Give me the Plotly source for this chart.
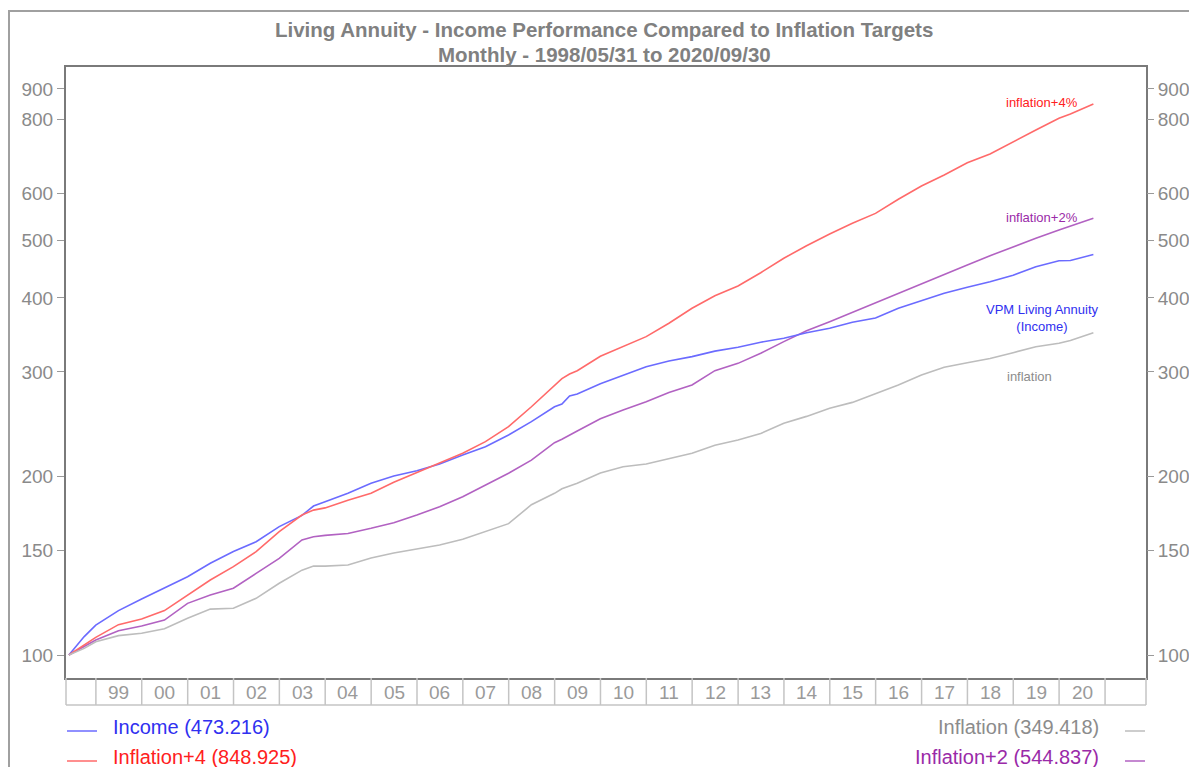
import plotly.graph_objects as go

# Month-end observation dates (index base 100 at 1998/05/31)
dates = [
    "1998-05-31", "1998-09-30", "1998-12-31", "1999-06-30", "1999-12-31",
    "2000-06-30", "2000-12-31", "2001-06-30", "2001-12-31", "2002-06-30",
    "2002-12-31", "2003-06-30", "2003-09-30", "2003-12-31", "2004-06-30",
    "2004-12-31", "2005-06-30", "2005-12-31", "2006-06-30", "2006-12-31",
    "2007-06-30", "2007-12-31", "2008-06-30", "2008-12-31", "2009-02-28",
    "2009-04-30", "2009-06-30", "2009-12-31", "2010-06-30", "2010-12-31",
    "2011-06-30", "2011-12-31", "2012-06-30", "2012-12-31", "2013-06-30",
    "2013-12-31", "2014-06-30", "2014-12-31", "2015-06-30", "2015-12-31",
    "2016-06-30", "2016-12-31", "2017-06-30", "2017-12-31", "2018-06-30",
    "2018-12-31", "2019-06-30", "2019-12-31", "2020-03-31", "2020-09-30",
]

income = [
    100.0, 107.4, 112.3, 118.8, 124.3, 129.8, 135.5, 142.8, 149.4, 155.2,
    164.6, 171.9, 178.3, 181.3, 187.3, 194.7, 200.4, 204.5, 209.9, 217.4,
    224.5, 234.9, 247.4, 262.1, 264.9, 273.3, 275.4, 286.5, 296.5, 306.2,
    313.0, 318.4, 325.3, 330.2, 336.8, 342.0, 349.4, 355.4, 363.9, 370.0,
    384.2, 395.7, 407.1, 416.8, 425.9, 436.7, 451.3, 462.0, 462.4, 473.216,
]

inflation_plus4 = [
    100.0, 103.9, 107.1, 112.5, 115.0, 118.8, 126.2, 133.8, 140.9, 149.4,
    161.4, 172.2, 175.5, 177.0, 182.4, 187.3, 195.5, 202.9, 210.5, 218.8,
    228.9, 242.6, 262.1, 285.2, 292.3, 297.6, 301.5, 318.8, 330.9, 344.1,
    362.4, 384.2, 403.4, 418.8, 441.0, 466.5, 489.8, 512.6, 534.2, 555.2,
    586.5, 617.5, 644.6, 676.0, 699.4, 733.5, 767.4, 803.1, 816.6, 848.925,
]

inflation_plus2 = [
    100.0, 103.3, 106.0, 109.9, 111.9, 114.5, 122.2, 126.2, 129.6, 137.3,
    145.5, 156.3, 158.2, 159.1, 160.3, 163.5, 167.1, 172.2, 177.8, 184.9,
    193.2, 202.5, 213.1, 228.0, 231.0, 234.5, 238.6, 250.1, 258.9, 267.3,
    277.1, 285.2, 301.5, 310.2, 322.6, 337.5, 352.1, 364.7, 378.3, 392.8,
    407.1, 423.2, 438.8, 454.5, 471.1, 488.0, 504.2, 520.6, 528.7, 544.837,
]

inflation = [
    100.0, 102.6, 105.3, 107.8, 108.8, 110.7, 115.3, 119.5, 119.9, 124.6,
    132.1, 139.0, 141.2, 141.2, 141.8, 145.7, 148.6, 150.9, 153.3, 156.7,
    161.4, 166.5, 179.2, 187.3, 190.7, 192.9, 194.7, 202.7, 207.7, 209.9,
    214.5, 218.8, 225.7, 230.3, 236.3, 245.9, 252.5, 260.6, 266.6, 275.7,
    285.2, 296.5, 305.5, 311.0, 316.2, 323.3, 330.9, 335.4, 339.0, 349.418,
]

y_ticks = [100, 150, 200, 300, 400, 500, 600, 800, 900]
years = list(range(1999, 2021))

FONT = "Liberation Sans, Arial, sans-serif"
GREY_TXT = "#8a8a8a"
AXIS_GREY = "#7a7a7a"
BOX_GREY = "#c4c4c4"

c_income, c_income_txt = "#6b6bff", "#3030f0"
c_inf4, c_inf4_txt = "#ff6a6a", "#ff2020"
c_inf2, c_inf2_txt = "#b262c2", "#9a2aa8"
c_inf, c_inf_txt = "#bdbdbd", "#8c8c8c"

PLOT_W, PLOT_H = 1080, 611      # plot area size in pixels
PLOT_L, PLOT_B = 66, 678        # plot area left / bottom edge in pixels


def px_x(px):
    return (px - PLOT_L) / PLOT_W


def px_y(py):
    return (PLOT_B - py) / PLOT_H


fig = go.Figure()
fig.add_trace(go.Scatter(x=dates, y=inflation, mode="lines", yaxis="y2",
                         line=dict(color=c_inf, width=1.6), name="Inflation"))
fig.add_trace(go.Scatter(x=dates, y=inflation_plus2, mode="lines",
                         line=dict(color=c_inf2, width=1.6), name="Inflation+2"))
fig.add_trace(go.Scatter(x=dates, y=income, mode="lines",
                         line=dict(color=c_income, width=1.6), name="Income"))
fig.add_trace(go.Scatter(x=dates, y=inflation_plus4, mode="lines",
                         line=dict(color=c_inf4, width=1.6), name="Inflation+4"))

# x range spans the partial first year and a blank slot after 2020
x_range = ["1998-05-08", "2021-11-23"]
y_range = [1.96123, 2.99124]

yaxis_common = dict(
    type="log", range=y_range, tickvals=y_ticks, ticktext=[str(v) for v in y_ticks],
    ticks="outside", ticklen=7, tickwidth=1, tickcolor="#9a9a9a",
    tickfont=dict(family=FONT, size=19, color=GREY_TXT),
    showgrid=False, zeroline=False, fixedrange=True, automargin=False,
)

fig.update_layout(
    width=1189, height=767,
    margin=dict(l=66, r=43, t=67, b=89, autoexpand=False),
    paper_bgcolor="white", plot_bgcolor="white",
    showlegend=False,
    font=dict(family=FONT),
    xaxis=dict(type="date", range=x_range, showticklabels=False, ticks="",
               showgrid=False, zeroline=False, showline=True, mirror=True,
               linecolor=AXIS_GREY, linewidth=2, automargin=False),
    yaxis=dict(**yaxis_common, side="left", showline=True, mirror=True,
               linecolor=AXIS_GREY, linewidth=2),
    yaxis2=dict(**yaxis_common, side="right", overlaying="y", showline=False),
)

annotations = []

# Two-line bold title
for txt, py in (("Living Annuity - Income Performance Compared to Inflation Targets", 29),
                ("Monthly - 1998/05/31 to 2020/09/30", 54)):
    annotations.append(dict(x=px_x(604), y=px_y(py), xref="paper", yref="paper",
                            text=f"<b>{txt}</b>", showarrow=False,
                            xanchor="center", yanchor="middle",
                            font=dict(family=FONT, size=20.5, color="#808080")))

# Year strip beneath the plot: boxes separated at each year boundary
box_bottom = px_y(705)
shapes = []
for yr in years + [2021]:
    shapes.append(dict(type="line", xref="x", yref="paper",
                       x0=f"{yr}-01-01", x1=f"{yr}-01-01", y0=0, y1=box_bottom,
                       line=dict(color=BOX_GREY, width=1.5)))
for xp in (0, 1):
    shapes.append(dict(type="line", xref="paper", yref="paper",
                       x0=xp, x1=xp, y0=0, y1=box_bottom,
                       line=dict(color=BOX_GREY, width=1.5)))
shapes.append(dict(type="line", xref="paper", yref="paper", x0=0, x1=1,
                   y0=box_bottom, y1=box_bottom, line=dict(color=BOX_GREY, width=1.5)))

# Outer frame around the whole chart panel
shapes.append(dict(type="rect", xref="paper", yref="paper",
                   x0=px_x(9), x1=px_x(1300), y0=px_y(900), y1=px_y(11),
                   line=dict(color="#a0a0a0", width=2), layer="below"))

for yr in years:
    annotations.append(dict(x=f"{yr}-07-02", y=px_y(692), xref="x", yref="paper",
                            text=f"{yr % 100:02d}", showarrow=False,
                            font=dict(family=FONT, size=19, color="#9a9a9a"),
                            xanchor="center", yanchor="middle"))

# Legend entries with final values
legend_rows = [
    ("left", 727, c_income, c_income_txt, f"Income ({income[-1]:.3f})"),
    ("left", 757, c_inf4, c_inf4_txt, f"Inflation+4 ({inflation_plus4[-1]:.3f})"),
    ("right", 727, c_inf, c_inf_txt, f"Inflation ({inflation[-1]:.3f})"),
    ("right", 757, c_inf2, c_inf2_txt, f"Inflation+2 ({inflation_plus2[-1]:.3f})"),
]
for side, py, lc, tc, label in legend_rows:
    if side == "left":
        x0, x1, tx, anchor = 67, 97, 111, "left"
    else:
        x0, x1, tx, anchor = 1125, 1145, 1101, "right"
    shapes.append(dict(type="line", xref="paper", yref="paper",
                       x0=px_x(x0), x1=px_x(x1), y0=px_y(py + 4), y1=px_y(py + 4),
                       line=dict(color=lc, width=1.5)))
    annotations.append(dict(x=px_x(tx), y=px_y(py), xref="paper", yref="paper", text=label,
                            showarrow=False, xanchor=anchor, yanchor="middle",
                            font=dict(family=FONT, size=20, color=tc)))

# Series labels placed next to the line ends
series_labels = [
    (1042, 103, "inflation+4%", c_inf4_txt),
    (1042, 217, "inflation+2%", c_inf2_txt),
    (1042, 318, "VPM Living Annuity<br>(Income)", c_income_txt),
    (1029, 376, "inflation", c_inf_txt),
]
for px, py, txt, col in series_labels:
    annotations.append(dict(x=px_x(px), y=px_y(py), xref="paper", yref="paper", text=txt,
                            showarrow=False, xanchor="center", yanchor="middle",
                            font=dict(family=FONT, size=13, color=col)))

fig.update_layout(shapes=shapes, annotations=annotations)
fig.write_html("out.html")
